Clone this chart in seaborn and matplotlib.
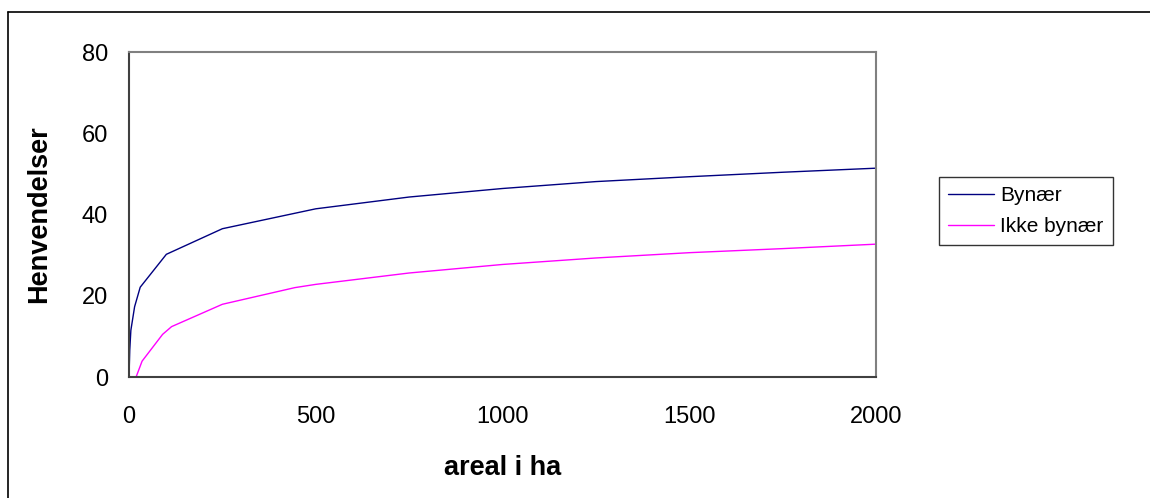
import pandas as pd
import seaborn as sns
import matplotlib.pyplot as plt
from matplotlib.lines import Line2D

# values
bynaer_x = [0, 2, 5, 15, 30, 100, 250, 500, 750, 1000, 1250, 1500, 1750, 2000]
bynaer_y = [0, 6.6, 11.5, 17.3, 22.1, 30.2, 36.5, 41.4, 44.3, 46.4, 48.1, 49.3, 50.4, 51.4]
ikke_x = [19, 35, 90, 114, 250, 444, 500, 750, 1000, 1250, 1500, 1750, 2000]
ikke_y = [0, 3.9, 10.5, 12.4, 17.9, 22.0, 22.8, 25.6, 27.7, 29.3, 30.6, 31.6, 32.7]
series_names = ['Bynær', 'Ikke bynær']
x_ticks = [0, 500, 1000, 1500, 2000]
y_ticks = [0, 20, 40, 60, 80]

df = pd.concat([
    pd.DataFrame({'areal': bynaer_x, 'henv': bynaer_y, 'serie': series_names[0]}),
    pd.DataFrame({'areal': ikke_x, 'henv': ikke_y, 'serie': series_names[1]}),
])

sns.set_theme(style='white')
plt.rcParams['font.family'] = ['Liberation Sans', 'DejaVu Sans']
plt.rcParams['text.color'] = 'black'
plt.rcParams['axes.labelcolor'] = 'black'

fig = plt.figure(figsize=(11.5, 4.98), dpi=100)
ax = fig.add_axes([129/1150, 1-377/498, (876-129)/1150, (377-52)/498])

sns.lineplot(data=df, x='areal', y='henv', hue='serie', palette=['#000080', '#FF00FF'],
             linewidth=1.0, sort=False, estimator=None, ax=ax)

ax.set_xlim(0, 2000)
ax.set_ylim(0, 80)
ax.set_xticks(x_ticks)
ax.set_yticks(y_ticks)
ax.tick_params(axis='both', direction='out', length=6, width=1.2, color='#404040',
               labelsize=17, labelcolor='black')
ax.tick_params(axis='y', pad=9)
ax.tick_params(axis='x', pad=15)
for side in ['left', 'bottom']:
    ax.spines[side].set_color('#404040')
    ax.spines[side].set_linewidth(1.5)
for side in ['top', 'right']:
    ax.spines[side].set_color('#808080')
    ax.spines[side].set_linewidth(1.5)

ax.set_xlabel('areal i ha', fontsize=19.5, fontweight='bold', labelpad=19)
ax.set_ylabel('Henvendelser', fontsize=19.5, fontweight='bold', labelpad=21)

leg = ax.legend(title=None, loc='upper left', bbox_to_anchor=(939/1150, 1-177/498),
                bbox_transform=fig.transFigure, borderaxespad=0, fontsize=15,
                frameon=True, fancybox=False, edgecolor='black', borderpad=0.45,
                handlelength=2.2, handletextpad=0.3, labelspacing=0.55)
leg.get_frame().set_linewidth(1.0)
for t in leg.get_texts():
    t.set_color('black')

# outer frame (top and left edges only)
fig.add_artist(Line2D([8/1150, 1], [1-12/498, 1-12/498], color='black', linewidth=1.2,
                      transform=fig.transFigure))
fig.add_artist(Line2D([8/1150, 8/1150], [0, 1-12/498], color='black', linewidth=1.2,
                      transform=fig.transFigure))

fig.savefig('out.png', dpi=100)
